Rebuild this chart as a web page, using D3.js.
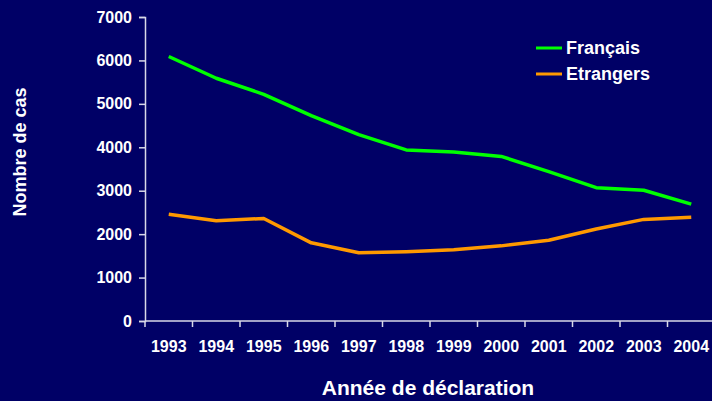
<!DOCTYPE html>
<html>
<head>
<meta charset="utf-8">
<script src="https://cdn.jsdelivr.net/npm/d3@7"></script>
<style>
  html, body { margin: 0; padding: 0; background: #000066; }
  svg { display: block; font-family: "Liberation Sans", Arial, sans-serif; font-weight: bold; }
</style>
</head>
<body>
<script>
// data
var years = ['1993', '1994', '1995', '1996', '1997', '1998', '1999', '2000', '2001', '2002', '2003', '2004'];
var francais = [6090, 5590, 5220, 4730, 4290, 3940, 3890, 3790, 3440, 3070, 3010, 2690];
var etrangers = [2460, 2310, 2360, 1800, 1570, 1595, 1640, 1730, 1860, 2120, 2340, 2390];
var yTicks = [0, 1000, 2000, 3000, 4000, 5000, 6000, 7000];

var series = [
  {name: 'Français', values: francais, color: '#00ff00'},
  {name: 'Etrangers', values: etrangers, color: '#ff9900'}
];

var width = 712, height = 401;
var margin = {left: 145, right: -3, top: 17, bottom: 80};

var svg = d3.select('body').append('svg')
  .attr('width', width)
  .attr('height', height);

var x = d3.scaleBand()
  .domain(years)
  .range([margin.left, width - margin.right]);

var y = d3.scaleLinear()
  .domain([0, 7000])
  .range([height - margin.bottom, margin.top]);

// y axis
var yAxis = svg.append('g')
  .attr('transform', 'translate(' + margin.left + ',0)')
  .call(d3.axisLeft(y).tickValues(yTicks).tickSize(6).tickPadding(7).tickFormat(d3.format('d')));

// x axis
var xAxis = svg.append('g')
  .attr('transform', 'translate(0,' + y(0) + ')')
  .call(d3.axisBottom(x).tickSize(0).tickPadding(20));

// x ticks between categories
xAxis.selectAll('.sep')
  .data(years)
  .enter().append('line')
    .attr('class', 'sep')
    .attr('x1', function(d) { return x(d); })
    .attr('x2', function(d) { return x(d); })
    .attr('y1', 0)
    .attr('y2', 6);

svg.selectAll('.domain, .tick line, .sep')
  .attr('stroke', '#d8d8e8')
  .attr('stroke-width', 1.5);
xAxis.select('.domain').attr('d', 'M' + margin.left + ',0H' + width);

svg.selectAll('.tick text')
  .attr('fill', '#ffffff')
  .style('font-size', '16px')
  .style('font-weight', 'bold')
  .style('font-family', '"Liberation Sans", Arial, sans-serif');

// lines
var line = d3.line()
  .x(function(d, i) { return x(years[i]) + x.bandwidth() / 2; })
  .y(function(d) { return y(d); });

svg.selectAll('.series')
  .data(series)
  .enter().append('path')
    .attr('class', 'series')
    .attr('d', function(d) { return line(d.values); })
    .attr('fill', 'none')
    .attr('stroke', function(d) { return d.color; })
    .attr('stroke-width', 3.5)
    .attr('stroke-linejoin', 'round');

// legend
var legend = svg.selectAll('.legend')
  .data(series)
  .enter().append('g')
    .attr('class', 'legend')
    .attr('transform', function(d, i) { return 'translate(536,' + (48 + i * 26) + ')'; });

legend.append('line')
  .attr('x1', 0).attr('x2', 26)
  .attr('stroke', function(d) { return d.color; })
  .attr('stroke-width', 3);

legend.append('text')
  .attr('x', 30)
  .attr('dy', '0.36em')
  .attr('fill', '#ffffff')
  .style('font-size', '18px')
  .text(function(d) { return d.name; });

// axis titles
svg.append('text')
  .attr('transform', 'translate(26,152) rotate(-90)')
  .attr('text-anchor', 'middle')
  .attr('fill', '#ffffff')
  .style('font-size', '18px')
  .text('Nombre de cas');

svg.append('text')
  .attr('x', 428)
  .attr('y', 395)
  .attr('text-anchor', 'middle')
  .attr('fill', '#ffffff')
  .style('font-size', '21px')
  .text('Année de déclaration');
</script>
</body>
</html>
